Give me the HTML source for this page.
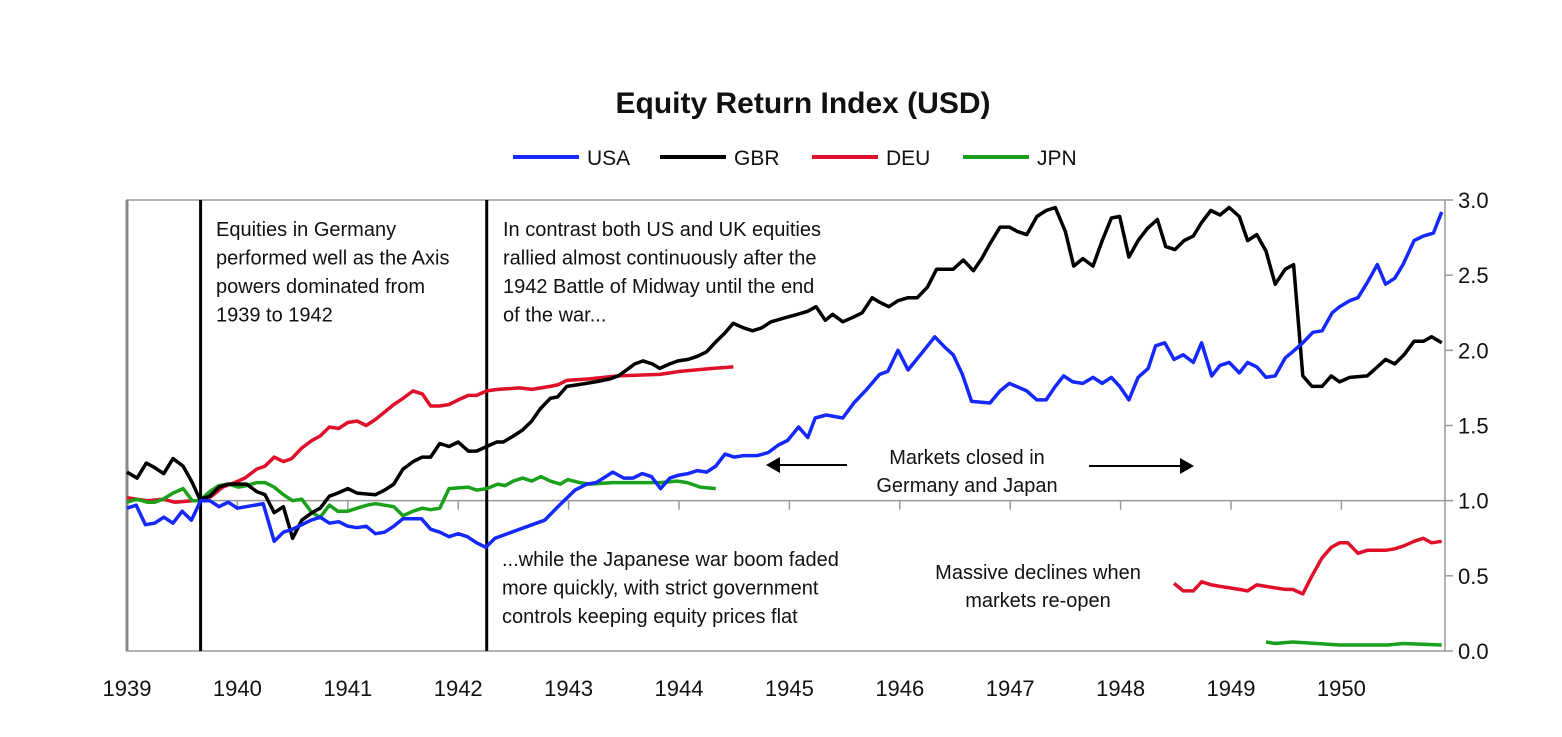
<!DOCTYPE html>
<html><head><meta charset="utf-8">
<style>
body{margin:0;background:#fff;}
svg text{font-family:"Liberation Sans",sans-serif;fill:#111;}
</style></head>
<body>
<svg width="1562" height="732" viewBox="0 0 1562 732" xmlns="http://www.w3.org/2000/svg">
<text x="803" y="113" text-anchor="middle" font-size="30" font-weight="bold">Equity Return Index (USD)</text>
<g id="legend"></g>
<g id="frame"></g>
<g id="series"></g>
<g id="notes" font-size="20">
<text x="216" y="236" font-size="20"><tspan x="216">Equities in Germany</tspan><tspan x="216" dy="28.5">performed well as the Axis</tspan><tspan x="216" dy="28.5">powers dominated from</tspan><tspan x="216" dy="28.5">1939 to 1942</tspan></text>
<text x="503" y="236" font-size="20"><tspan x="503">In contrast both US and UK equities</tspan><tspan x="503" dy="28.5">rallied almost continuously after the</tspan><tspan x="503" dy="28.5">1942 Battle of Midway until the end</tspan><tspan x="503" dy="28.5">of the war...</tspan></text>
<text x="502" y="566" font-size="20"><tspan x="502">...while the Japanese war boom faded</tspan><tspan x="502" dy="28.5">more quickly, with strict government</tspan><tspan x="502" dy="28.5">controls keeping equity prices flat</tspan></text>
<text x="967" y="464" font-size="20" text-anchor="middle"><tspan x="967">Markets closed in</tspan><tspan x="967" dy="28">Germany and Japan</tspan></text>
<text x="1038" y="579" font-size="20" text-anchor="middle"><tspan x="1038">Massive declines when</tspan><tspan x="1038" dy="28">markets re-open</tspan></text>
<g><line x1="847" y1="465" x2="780" y2="465" stroke="#000" stroke-width="2"/><polygon points="766,465 780,457 780,473" fill="#000"/></g>
<g><line x1="1089" y1="466" x2="1180" y2="466" stroke="#000" stroke-width="2"/><polygon points="1194,466 1180,458 1180,474" fill="#000"/></g>
</g>
</svg>
<script>
const yTicks=[0,0.5,1.0,1.5,2.0,2.5,3.0];
const yTickLabels=["0.0","0.5","1.0","1.5","2.0","2.5","3.0"];
const xYears=[1939,1940,1941,1942,1943,1944,1945,1946,1947,1948,1949,1950];
const usaMonths=[0,1,2,3,4,5,6,7,8,9,10,11,12,14.8,16,17,18,19,20,21,22,23,24,25,26,27,28,29,30,32,33,34,35,36,37,38,39,40,42.7,45.4,47,48.7,50,51,52.8,54,55,56,57,58,59,60,61,62,63,64,65,66,67,68.5,69.7,70.8,71.8,73,74,74.8,76,77.8,79,80.4,81.8,82.7,83.8,84.9,86.5,87.8,88.9,89.8,90.8,91.8,93.8,94.9,95.9,97.8,98.9,99.9,100.9,101.8,102.8,103.9,105,106,107,107.9,108.9,109.9,111,111.8,112.8,113.8,114.8,115.9,116.8,117.9,118.8,119.8,120.9,121.8,122.8,123.8,124.8,125.9,126.7,127.8,128.9,129.9,131,131.8,132.9,133.8,134.8,135.9,136.8,137.8,138.7,139.9,140.9,142,142.9];
const usaValues=[0.95,0.97,0.84,0.85,0.89,0.85,0.93,0.87,1.0,1.0,0.96,0.99,0.95,0.98,0.73,0.79,0.81,0.84,0.87,0.89,0.85,0.86,0.83,0.82,0.83,0.78,0.79,0.83,0.88,0.88,0.81,0.79,0.76,0.78,0.76,0.72,0.69,0.75,0.81,0.87,0.97,1.07,1.11,1.12,1.19,1.15,1.15,1.18,1.16,1.08,1.15,1.17,1.18,1.20,1.19,1.23,1.31,1.29,1.30,1.30,1.32,1.37,1.40,1.49,1.42,1.55,1.57,1.55,1.65,1.74,1.84,1.86,2.00,1.87,1.99,2.09,2.02,1.97,1.84,1.66,1.65,1.73,1.78,1.73,1.67,1.67,1.76,1.83,1.79,1.78,1.82,1.78,1.82,1.76,1.67,1.82,1.88,2.03,2.05,1.94,1.97,1.92,2.05,1.83,1.90,1.92,1.85,1.92,1.89,1.82,1.83,1.95,1.99,2.05,2.12,2.13,2.25,2.29,2.33,2.35,2.45,2.57,2.44,2.48,2.57,2.73,2.76,2.78,2.92];
const gbrMonths=[0,1.1,2.1,3,4,5,6.1,7.1,7.9,9,10,11,13,14.1,15,16,17,18,19,20.1,21,22,22.9,24,25,27,28,29,30,31.1,32.1,33,34,35,36,37.1,38,39.1,40.2,40.9,42,43,44,44.9,46,46.8,47.8,48.9,50.9,52.5,53.4,54.3,55.2,56.1,57.1,57.9,59,59.9,61,62,63,63.9,64.9,65.9,67,68,69,70,71.7,72.9,74,74.9,75.9,76.7,77.8,78.9,79.9,81,81.8,82.8,83.8,84.9,85.9,87,88,89.8,90.9,92,92.9,93.8,94.9,95.9,96.8,97.8,98.9,99.9,100.9,102,102.9,103.9,105,106,107,107.9,108.9,109.9,110.9,112,112.9,113.9,114.9,115.9,116.8,117.8,118.8,119.8,120.9,121.8,122.8,123.8,124.8,125.9,126.8,127.8,128.8,129.9,130.9,131.8,132.9,134.8,135.9,136.8,137.8,138.8,139.9,140.9,141.8,142.9];
const gbrValues=[1.19,1.15,1.25,1.22,1.18,1.28,1.23,1.12,1.01,1.03,1.09,1.11,1.11,1.06,1.04,0.92,0.96,0.75,0.87,0.92,0.95,1.03,1.05,1.08,1.05,1.04,1.07,1.11,1.21,1.26,1.29,1.29,1.38,1.36,1.39,1.33,1.33,1.36,1.39,1.39,1.43,1.47,1.53,1.61,1.68,1.69,1.76,1.77,1.79,1.81,1.83,1.87,1.91,1.93,1.91,1.88,1.91,1.93,1.94,1.96,1.99,2.05,2.11,2.18,2.15,2.13,2.15,2.19,2.22,2.24,2.26,2.29,2.20,2.24,2.19,2.22,2.25,2.35,2.32,2.29,2.33,2.35,2.35,2.42,2.54,2.54,2.60,2.53,2.61,2.71,2.82,2.82,2.79,2.77,2.89,2.93,2.95,2.79,2.56,2.61,2.56,2.73,2.88,2.89,2.62,2.73,2.81,2.87,2.69,2.67,2.73,2.76,2.85,2.93,2.90,2.95,2.89,2.73,2.77,2.66,2.44,2.54,2.57,1.83,1.76,1.76,1.83,1.79,1.82,1.83,1.89,1.94,1.91,1.97,2.06,2.06,2.09,2.05];
const deuMonths=[0,2.2,3.9,5.2,7.1,8.2,9.2,10.4,11.7,12.8,14.1,15,16,17,17.9,19,20.1,21,22,23,24,25,26,27,28,29,30,31.1,32.1,33,34,35,36,37.1,38,39.1,40.3,42.7,44,46,46.8,47.8,50.3,53.3,57.9,60.1,63.7,65.9,90,113.8,114.8,115.9,116.8,117.9,118.8,120.9,121.8,122.8,123.8,124.8,125.9,126.7,127.8,128.8,129.9,130.9,131.8,132.7,133.8,134.8,135.9,136.8,137.8,138.8,139.9,140.9,141.8,142.9];
const deuValues=[1.02,1.00,1.01,0.99,1.00,1.00,1.03,1.09,1.12,1.15,1.21,1.23,1.29,1.26,1.28,1.35,1.40,1.43,1.49,1.48,1.52,1.53,1.50,1.54,1.59,1.64,1.68,1.73,1.71,1.63,1.63,1.64,1.67,1.70,1.70,1.73,1.74,1.75,1.74,1.76,1.77,1.80,1.81,1.83,1.84,1.86,1.88,1.89,null,0.45,0.40,0.40,0.46,0.44,0.43,0.41,0.40,0.44,0.43,0.42,0.41,0.41,0.38,0.50,0.62,0.69,0.72,0.72,0.65,0.67,0.67,0.67,0.68,0.70,0.73,0.75,0.72,0.73];
const jpnMonths=[0,1.1,2.2,3,3.9,5,6.1,7.1,7.9,9,10,11,12.1,13,14.1,15,16,17,18,19,20.1,21,22,22.9,24,25,26.1,27,28,29,30,31.1,32.1,33,34,35,37.1,38,39.1,40.3,41.1,42,43,44,45,46,47.1,47.9,49.2,50.3,52.8,55,57.9,59.8,60.9,62.3,64,90,123.8,124.8,126.7,129.3,131.8,134.8,137,138.7,142.9];
const jpnValues=[0.99,1.01,0.99,0.99,1.01,1.05,1.08,1.00,1.00,1.06,1.10,1.11,1.09,1.10,1.12,1.12,1.09,1.04,1.00,1.01,0.92,0.89,0.97,0.93,0.93,0.95,0.97,0.98,0.97,0.96,0.90,0.93,0.95,0.94,0.95,1.08,1.09,1.07,1.08,1.11,1.10,1.13,1.15,1.13,1.16,1.13,1.11,1.14,1.12,1.11,1.12,1.12,1.12,1.13,1.12,1.09,1.08,null,0.06,0.05,0.06,0.05,0.04,0.04,0.04,0.05,0.04];

const NS="http://www.w3.org/2000/svg";
const X0=127,X1=1445,YTOP=200,YBOT=651;
function xs(m){return X0+m*(110.4/12);}
function xy(y){return X0+(y-1939)*110.4;}
function ys(v){return YBOT-(v/3)*(YBOT-YTOP);}
function mk(tag,attrs,parent){const e=document.createElementNS(NS,tag);for(const k in attrs)e.setAttribute(k,attrs[k]);parent.appendChild(e);return e;}

const frame=document.getElementById('frame');
let e;
e=mk('rect',{x:X0,y:YTOP,width:X1-X0,height:YBOT-YTOP,fill:'none',stroke:'#999','stroke-width':1.5},frame);


e=mk('line',{x1:X0,y1:YTOP,x2:X0,y2:YBOT,stroke:'#888','stroke-width':3},frame);


e=mk('line',{x1:X0,y1:ys(1),x2:X1,y2:ys(1),stroke:'#999','stroke-width':1.5},frame);


yTicks.forEach((t,i)=>{
  const l=mk('line',{x1:X1,y1:ys(t),x2:X1+8,y2:ys(t),stroke:'#999','stroke-width':1.5},frame);
  
  
  const tx=mk('text',{x:1458,y:ys(t)+8,'font-size':22,fill:'#333'},frame);
  tx.textContent=yTickLabels[i];
  
  
});
xYears.forEach(yr=>{
  const px=xy(yr);
  if(yr>1939){
    const l=mk('line',{x1:px,y1:ys(1),x2:px,y2:ys(1)+9,stroke:'#999','stroke-width':1.5},frame);
    
    
  }
  const tx=mk('text',{x:px,y:696,'font-size':22,'text-anchor':'middle',fill:'#333'},frame);
  tx.textContent=String(yr);
  
  
});
[1939+8/12,1942+3.1/12].forEach(yr=>{
  const l=mk('line',{x1:xy(yr),y1:YTOP,x2:xy(yr),y2:YBOT,stroke:'#000','stroke-width':3},frame);
  
  
});

const series=document.getElementById('series');
function draw(name,months,vals,color){
  let d='',pen=false;
  for(let i=0;i<months.length;i++){
    if(vals[i]===null||vals[i]===undefined){pen=false;continue;}
    d+=(pen?'L':'M')+xs(months[i]).toFixed(1)+','+ys(vals[i]).toFixed(1);
    pen=true;
  }
  const p=mk('path',{d:d,fill:'none',stroke:color,'stroke-width':3.5,'stroke-linejoin':'round'},series);
  
  
}
draw('deu-line',deuMonths,deuValues,'#e0102a');
draw('jpn-line',jpnMonths,jpnValues,'#1aa01a');
draw('gbr-line',gbrMonths,gbrValues,'#000000');
draw('usa-line',usaMonths,usaValues,'#1428ff');

const legend=document.getElementById('legend');
[['USA','#1428ff',513],['GBR','#000',660],['DEU','#e0102a',812],['JPN','#1aa01a',963]].forEach(a=>{
  const g=mk('g',{},legend);
  
  
  mk('line',{x1:a[2],y1:157,x2:a[2]+66,y2:157,stroke:a[1],'stroke-width':4},g);
  const t=mk('text',{x:a[2]+74,y:165,'font-size':21},g);
  t.textContent=a[0];
});
</script>
</body></html>
